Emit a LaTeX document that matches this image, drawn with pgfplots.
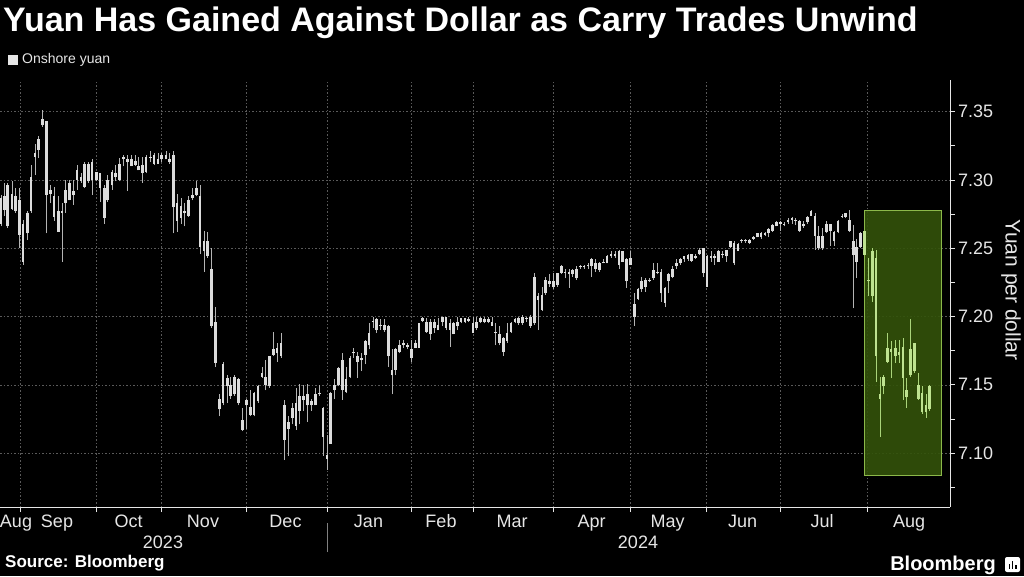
\documentclass[border=0pt]{standalone}
\usepackage{pgfplots}
\pgfplotsset{compat=1.18}
\usepackage{pgfplotstable}
\usepackage{fontspec}
\setmainfont{Liberation Sans}
\definecolor{gridc}{HTML}{5A5A5A}
\definecolor{bodyc}{HTML}{DCDCDC}
\definecolor{wickc}{HTML}{B4B4B4}
\definecolor{gbody}{HTML}{BEE290}
\definecolor{gwick}{HTML}{AAD47A}
\definecolor{gfill}{HTML}{33530A}
\definecolor{gedge}{HTML}{8CB84A}
\definecolor{txt}{HTML}{E6E6E6}
\pgfplotstableread{
x bt bb h l
1 7.287 7.268 7.289 7.266
4.3 7.288 7.278 7.298 7.274
7.3 7.296 7.266 7.298 7.265
12 7.290 7.279 7.299 7.278
15.3 7.288 7.277 7.294 7.276
19.3 7.285 7.260 7.294 7.250
23 7.268 7.240 7.271 7.238
27.3 7.276 7.261 7.277 7.256
31 7.302 7.277 7.311 7.276
35 7.320 7.317 7.326 7.304
38.7 7.330 7.322 7.332 7.316
42.7 7.345 7.340 7.351 7.339
46.3 7.343 7.289 7.343 7.261
50.3 7.293 7.290 7.296 7.283
54 7.288 7.273 7.295 7.270
58.3 7.277 7.262 7.288 7.262
62 7.277 7.276 7.283 7.240
65.7 7.293 7.283 7.300 7.276
69.3 7.298 7.285 7.300 7.285
73.3 7.292 7.289 7.300 7.282
77 7.307 7.300 7.311 7.293
81 7.302 7.299 7.305 7.298
84.7 7.312 7.295 7.313 7.294
88.7 7.312 7.299 7.313 7.298
92 7.313 7.300 7.315 7.289
96.7 7.306 7.300 7.306 7.299
100 7.305 7.294 7.305 7.284
104.3 7.294 7.272 7.296 7.268
107.7 7.300 7.285 7.304 7.284
112 7.306 7.296 7.307 7.293
115.7 7.305 7.302 7.311 7.299
119.3 7.312 7.300 7.316 7.299
123.3 7.317 7.315 7.318 7.310
127.3 7.315 7.313 7.318 7.292
131.7 7.315 7.310 7.318 7.310
135.3 7.314 7.311 7.318 7.310
138.7 7.310 7.307 7.317 7.307
142.7 7.311 7.305 7.317 7.298
146 7.317 7.306 7.318 7.305
150.3 7.317 7.316 7.321 7.313
154 7.318 7.312 7.320 7.311
158 7.315 7.312 7.320 7.312
161.7 7.318 7.315 7.320 7.313
166 7.318 7.315 7.321 7.315
169.3 7.315 7.313 7.320 7.312
173.3 7.318 7.280 7.321 7.261
177 7.283 7.270 7.290 7.262
181 7.281 7.272 7.287 7.268
184.7 7.277 7.276 7.283 7.266
188.7 7.285 7.274 7.288 7.273
192.3 7.289 7.287 7.294 7.285
196.7 7.294 7.289 7.299 7.288
200 7.288 7.251 7.296 7.246
204 7.255 7.248 7.263 7.233
207.7 7.255 7.244 7.262 7.243
211.7 7.235 7.193 7.250 7.192
215.3 7.196 7.166 7.207 7.163
219.3 7.140 7.132 7.143 7.127
223 7.165 7.137 7.167 7.135
227.3 7.155 7.149 7.157 7.137
230.3 7.150 7.142 7.156 7.140
234.7 7.156 7.143 7.157 7.142
238.3 7.154 7.137 7.155 7.135
242.7 7.124 7.117 7.133 7.116
246.3 7.139 7.135 7.140 7.118
250.3 7.134 7.128 7.146 7.127
254 7.144 7.128 7.145 7.127
258 7.149 7.138 7.150 7.137
262 7.159 7.156 7.163 7.155
265.7 7.156 7.150 7.168 7.146
269.3 7.171 7.149 7.171 7.148
273.3 7.176 7.172 7.189 7.171
277 7.177 7.173 7.181 7.167
281 7.181 7.171 7.188 7.170
284.7 7.135 7.110 7.139 7.095
288.7 7.123 7.118 7.127 7.098
292.3 7.133 7.126 7.137 7.121
296 7.137 7.120 7.148 7.117
299.7 7.142 7.131 7.151 7.121
303.7 7.142 7.139 7.150 7.131
307.3 7.143 7.135 7.151 7.123
311.3 7.138 7.135 7.140 7.131
315.3 7.143 7.135 7.148 7.135
319.3 7.144 7.143 7.150 7.142
323 7.133 7.112 7.134 7.098
327 7.099 7.096 7.113 7.088
330.7 7.144 7.107 7.145 7.107
334.7 7.150 7.146 7.154 7.140
338.3 7.162 7.150 7.163 7.149
342.3 7.168 7.146 7.173 7.139
346 7.154 7.145 7.163 7.144
350 7.170 7.156 7.171 7.155
353.7 7.174 7.173 7.177 7.170
357.7 7.171 7.167 7.174 7.155
361.3 7.170 7.168 7.173 7.160
365.3 7.182 7.172 7.183 7.165
369 7.188 7.179 7.195 7.176
373 7.197 7.196 7.200 7.192
376.7 7.198 7.190 7.199 7.188
380.7 7.194 7.193 7.198 7.190
384.3 7.194 7.190 7.198 7.189
388.7 7.193 7.171 7.194 7.163
392 7.161 7.157 7.176 7.143
395.7 7.176 7.161 7.177 7.157
399.7 7.179 7.174 7.183 7.173
403.7 7.181 7.179 7.183 7.177
407.3 7.179 7.178 7.181 7.176
411.3 7.176 7.170 7.183 7.167
415.3 7.181 7.177 7.183 7.177
419 7.195 7.177 7.195 7.177
422.7 7.199 7.197 7.200 7.196
426.7 7.196 7.189 7.199 7.188
430.3 7.196 7.187 7.198 7.183
434.3 7.196 7.192 7.198 7.188
438 7.194 7.190 7.199 7.190
442.3 7.200 7.196 7.200 7.193
446 7.200 7.192 7.200 7.190
450 7.195 7.190 7.198 7.178
453.7 7.195 7.187 7.196 7.187
457.7 7.196 7.193 7.200 7.190
461 7.199 7.196 7.199 7.195
465 7.199 7.196 7.199 7.195
468.7 7.198 7.197 7.200 7.196
473 7.195 7.188 7.200 7.188
476.7 7.196 7.192 7.200 7.190
480.7 7.199 7.196 7.200 7.195
484.3 7.198 7.196 7.200 7.195
488.3 7.198 7.196 7.200 7.195
492 7.196 7.193 7.200 7.193
495.7 7.189 7.188 7.195 7.179
499.3 7.187 7.181 7.193 7.179
503.3 7.184 7.174 7.185 7.171
507 7.188 7.182 7.195 7.181
511 7.195 7.189 7.196 7.188
515 7.198 7.196 7.199 7.195
518.7 7.199 7.195 7.200 7.194
522.7 7.200 7.195 7.201 7.194
526.7 7.199 7.198 7.200 7.196
530.3 7.200 7.193 7.201 7.192
534.3 7.229 7.195 7.232 7.194
538 7.215 7.212 7.217 7.190
542 7.216 7.205 7.222 7.204
545.7 7.227 7.217 7.229 7.216
549.7 7.226 7.224 7.231 7.222
553.7 7.226 7.222 7.232 7.220
557.3 7.232 7.223 7.232 7.222
561.3 7.237 7.232 7.238 7.231
565 7.233 7.232 7.235 7.228
569 7.233 7.231 7.235 7.221
572.7 7.234 7.231 7.235 7.229
576.3 7.235 7.228 7.237 7.227
580.3 7.237 7.236 7.238 7.235
584 7.237 7.236 7.238 7.235
588 7.238 7.237 7.239 7.235
591.7 7.242 7.237 7.243 7.229
595.7 7.239 7.235 7.242 7.233
599.3 7.239 7.234 7.240 7.233
603.3 7.240 7.239 7.242 7.239
607 7.244 7.239 7.245 7.239
611 7.246 7.244 7.248 7.243
615 7.246 7.244 7.248 7.243
619 7.248 7.238 7.249 7.235
622.7 7.248 7.240 7.248 7.240
626.7 7.242 7.226 7.243 7.221
630.3 7.243 7.238 7.248 7.238
634.3 7.209 7.200 7.217 7.193
638 7.220 7.213 7.221 7.212
641.7 7.226 7.220 7.229 7.218
645.7 7.227 7.222 7.228 7.218
649.3 7.227 7.226 7.228 7.225
653.3 7.234 7.228 7.239 7.227
657.3 7.233 7.232 7.239 7.231
661 7.233 7.217 7.235 7.211
665 7.221 7.210 7.222 7.207
668.7 7.231 7.226 7.232 7.217
672.7 7.235 7.229 7.237 7.228
676.3 7.239 7.237 7.242 7.235
680.3 7.242 7.239 7.243 7.238
684 7.244 7.242 7.244 7.240
688 7.245 7.242 7.246 7.241
691.7 7.246 7.241 7.246 7.240
695.7 7.244 7.243 7.246 7.242
699.3 7.249 7.246 7.250 7.245
703.3 7.250 7.232 7.250 7.229
707 7.244 7.222 7.245 7.222
711 7.244 7.243 7.248 7.240
714.7 7.244 7.243 7.246 7.238
718.7 7.248 7.240 7.249 7.240
722.3 7.246 7.245 7.248 7.243
726.3 7.249 7.244 7.249 7.240
730.3 7.255 7.251 7.255 7.250
734 7.254 7.239 7.255 7.238
738 7.253 7.248 7.254 7.248
741.7 7.256 7.255 7.257 7.254
745.7 7.256 7.255 7.257 7.254
749.7 7.256 7.254 7.257 7.253
753.3 7.258 7.257 7.259 7.256
757.3 7.261 7.258 7.261 7.258
761 7.261 7.258 7.262 7.257
765 7.261 7.260 7.262 7.259
768.7 7.264 7.261 7.265 7.258
772.7 7.267 7.263 7.268 7.262
776.3 7.269 7.266 7.270 7.266
780.3 7.269 7.268 7.270 7.263
784 7.268 7.267 7.269 7.266
788 7.271 7.269 7.272 7.268
792 7.272 7.271 7.273 7.268
795.7 7.271 7.270 7.272 7.267
799.7 7.270 7.263 7.271 7.262
803.3 7.268 7.266 7.270 7.265
807.3 7.273 7.269 7.274 7.268
811 7.277 7.274 7.278 7.274
815 7.274 7.259 7.276 7.249
818.7 7.259 7.250 7.266 7.249
822.7 7.259 7.250 7.265 7.249
826.3 7.268 7.262 7.270 7.261
830.3 7.268 7.263 7.268 7.252
834 7.262 7.255 7.263 7.252
838 7.270 7.262 7.271 7.261
842 7.274 7.273 7.275 7.272
845.7 7.276 7.273 7.276 7.272
849.7 7.271 7.263 7.278 7.262
853.3 7.255 7.245 7.267 7.206
856.7 7.251 7.240 7.257 7.228
860.7 7.261 7.251 7.262 7.250
}\dataW
\pgfplotstableread{
x bt bb h l
864.7 7.263 7.245 7.263 7.245
868.7 7.227 7.226 7.243 7.215
872.3 7.248 7.215 7.250 7.211
876 7.243 7.171 7.249 7.152
880 7.143 7.140 7.156 7.112
883.3 7.156 7.149 7.157 7.143
887.7 7.177 7.167 7.188 7.166
891 7.176 7.174 7.182 7.155
895.3 7.177 7.171 7.183 7.166
899 7.174 7.172 7.183 7.166
903 7.178 7.155 7.184 7.139
906.7 7.146 7.141 7.155 7.133
910.7 7.176 7.157 7.198 7.156
914.3 7.181 7.160 7.181 7.159
918.3 7.150 7.140 7.159 7.139
922 7.144 7.130 7.149 7.129
926 7.135 7.130 7.143 7.126
929.7 7.149 7.132 7.150 7.131
}\dataG
\pgfplotsset{
  candle/.style n args={2}{draw=none, mark=none, forget plot,
    error bars/.cd, y dir=plus, y explicit, error mark=none,
    error bar style={draw=#1, line width=#2}},
}
\begin{document}
\begin{tikzpicture}[x=1pt,y=1pt]
\useasboundingbox (0,0) rectangle (1024,576);
\fill[black] (0,0) rectangle (1024,576);
\begin{axis}[at={(0pt,69pt)}, anchor=south west, scale only axis,
  width=950pt, height=427pt,
  xmin=0, xmax=950, ymin=7.0606, ymax=7.3732,
  axis x line*=bottom, axis y line*=right,
  axis line style={draw=txt, line width=0.8pt, -},
  xtick={20,96.7,161.7,246,327.3,411.7,473.3,553.3,630,706.7,780,867.7},
  xticklabels={},
  extra x ticks={16,57,128.5,203,285.5,368.5,441,512,591.5,667.5,742.5,822,909},
  extra x tick labels={Aug,Sep,Oct,Nov,Dec,Jan,Feb,Mar,Apr,May,Jun,Jul,Aug},
  extra x tick style={grid=none, major tick length=0pt},
  ytick={7.10,7.15,7.20,7.25,7.30,7.35},
  minor ytick={7.075,7.125,7.175,7.225,7.275,7.325},
  tick align=outside, major tick length=5pt, minor tick length=5pt,
  tick style={draw=txt, line width=0.8pt},
  xmajorgrids, ymajorgrids,
  grid style={draw=gridc, dash pattern=on 1.5pt off 2pt, line width=0.6pt},
  /pgf/number format/assume math mode=true,
  yticklabel style={/pgf/number format/.cd, fixed, fixed zerofill, precision=2, /tikz/.cd,
     font=\fontsize{18}{18}\selectfont, text=txt, anchor=west, inner sep=0pt, xshift=3pt},
  xticklabel style={font=\fontsize{18}{18}\selectfont, text=txt, anchor=base, yshift=-20pt},
]
\fill[gfill, fill opacity=0.9] (axis cs:864,7.084) rectangle (axis cs:941.7,7.278);
\draw[gedge, line width=0.9pt] (axis cs:864,7.084) rectangle (axis cs:941.7,7.278);
\addplot[candle={wickc}{0.9pt}]
  table[x=x, y=l, y error plus expr=\thisrow{h}-\thisrow{l}] {\dataW};
\addplot[candle={bodyc}{2.8pt}]
  table[x=x, y=bb, y error plus expr=\thisrow{bt}-\thisrow{bb}] {\dataW};
\addplot[candle={gwick}{0.9pt}]
  table[x=x, y=l, y error plus expr=\thisrow{h}-\thisrow{l}] {\dataG};
\addplot[candle={gbody}{2.8pt}]
  table[x=x, y=bb, y error plus expr=\thisrow{bt}-\thisrow{bb}] {\dataG};
\end{axis}
\node[anchor=base west, inner sep=0pt, text=white, font=\fontsize{34}{36}\selectfont\bfseries] at (3,544) {Yuan Has Gained Against Dollar as Carry Trades Unwind};
\fill[txt] (8,511) rectangle (18,521);
\node[anchor=west, inner sep=0pt, text=txt, font=\fontsize{14}{14}\selectfont] at (22,516) {Onshore yuan};
\node[rotate=-90, text=txt, font=\fontsize{21}{21}\selectfont] at (1011,286) {Yuan per dollar};
\node[anchor=base, text=txt, font=\fontsize{18}{18}\selectfont, inner sep=0pt] at (163,28) {2023};
\node[anchor=base, text=txt, font=\fontsize{18}{18}\selectfont, inner sep=0pt] at (638,28) {2024};
\draw[gray, line width=0.8pt] (327.3,24) -- (327.3,53);
\node[anchor=base west, inner sep=0pt, text=white, font=\fontsize{17}{17}\selectfont\bfseries] at (5,9) {Source: Bloomberg};
\node[anchor=base east, inner sep=0pt, text=white, font=\fontsize{20}{20}\selectfont\bfseries] at (996,6) {Bloomberg};
\fill[white, rounded corners=2pt] (1005,4) rectangle (1020,19);
\fill[black] (1008.5,7.5) rectangle (1010,12);
\fill[black] (1011.8,7.5) rectangle (1013.3,15.5);
\fill[black] (1015,7.5) rectangle (1016.5,11);
\end{tikzpicture}
\end{document}
